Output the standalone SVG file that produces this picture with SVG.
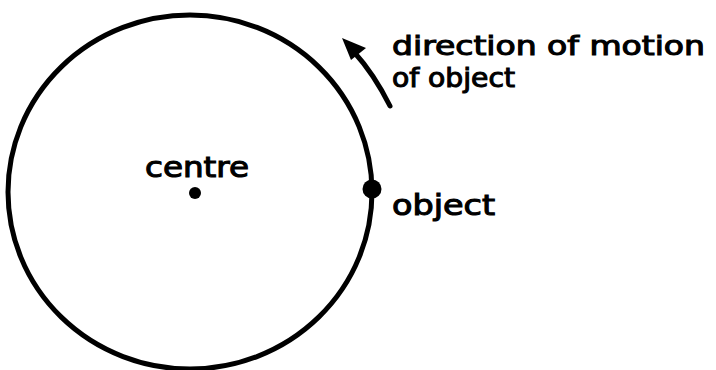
<svg xmlns="http://www.w3.org/2000/svg" width="716" height="370" viewBox="0 0 716 370">
<style>
.lbl{font-family:"DejaVu Sans Condensed","DejaVu Sans",sans-serif;font-weight:normal;font-size:29px;fill:#000;stroke:#000;stroke-width:1}
.sm{font-size:27px}
.ln{fill:none;stroke:#000;stroke-width:5;stroke-linecap:round}
</style>
<rect width="716" height="370" fill="#fff"/>
<g id="circle">
<ellipse class="ln" cx="190" cy="192" rx="182" ry="177"/>
</g>
<g id="centre">
<circle cx="195" cy="193" r="6" fill="#000"/>
<text class="lbl" x="145" y="177" textLength="104" lengthAdjust="spacingAndGlyphs">centre</text>
</g>
<g id="object">
<circle cx="372" cy="189" r="9.5" fill="#000"/>
<text class="lbl" x="392" y="215" textLength="103" lengthAdjust="spacingAndGlyphs">object</text>
</g>
<g id="connectors">
<path class="ln" d="M390 106 Q374 74 354 52"/>
<polygon points="342,38 366,48 351,60" fill="#000"/>
</g>
<g id="direction-label">
<text class="lbl sm" x="392" y="55" textLength="313" lengthAdjust="spacingAndGlyphs">direction of motion</text>
<text class="lbl sm" x="392" y="87" textLength="123" lengthAdjust="spacingAndGlyphs">of object</text>
</g>
</svg>
